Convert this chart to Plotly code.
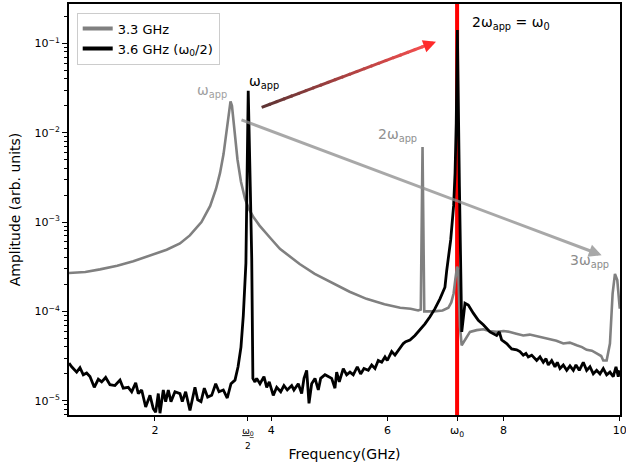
import plotly.graph_objects as go

# ---------------- data ----------------
# 3.3 GHz drive (gray): frequency (GHz) and log10(amplitude)
gray_freq = [0.52, 0.8, 1.053, 1.35, 1.627, 1.9, 2.201, 2.43, 2.6, 2.8, 2.95, 3.05, 3.12, 3.18,
             3.22, 3.25, 3.275, 3.30, 3.325, 3.35, 3.38, 3.42, 3.48, 3.55, 3.62, 3.70, 3.80, 3.90,
             4.0, 4.15, 4.32, 4.49, 4.75, 5.07, 5.35, 5.64, 5.95, 6.22, 6.40, 6.53, 6.575, 6.605,
             6.635, 6.66, 6.8, 6.95, 7.05, 7.10, 7.14, 7.17, 7.20, 7.22, 7.25, 7.279, 7.336,
             7.422, 7.537, 7.651, 7.75, 7.881, 8.0, 8.11, 8.22, 8.339, 8.45, 8.57, 8.68, 8.798,
             8.91, 9.028, 9.14, 9.258, 9.35, 9.43, 9.52, 9.602, 9.68, 9.716, 9.774, 9.831, 9.877,
             9.917, 9.957, 10.0]
gray_log_amp = [-3.57, -3.56, -3.53, -3.49, -3.44, -3.38, -3.31, -3.24, -3.15, -3.00, -2.82, -2.63,
                -2.45, -2.24, -2.03, -1.86, -1.72, -1.65, -1.70, -1.85, -2.05, -2.30, -2.55, -2.74,
                -2.86, -2.95, -3.04, -3.12, -3.19, -3.30, -3.39, -3.47, -3.58, -3.69, -3.78, -3.86,
                -3.92, -3.96, -3.97, -3.99, -3.98, -2.16, -4.00, -4.00, -4.00, -3.99, -3.96, -3.90,
                -3.80, -3.64, -3.50, -3.54, -4.17, -4.38, -4.32, -4.23, -4.21, -4.20, -4.22, -4.23,
                -4.22, -4.23, -4.25, -4.27, -4.26, -4.28, -4.30, -4.32, -4.33, -4.36, -4.35, -4.38,
                -4.40, -4.43, -4.44, -4.47, -4.50, -4.55, -4.55, -4.36, -3.80, -3.58, -3.65, -3.97]

# 3.6 GHz drive (black): frequency (GHz) and log10(amplitude)
black_freq = [0.52, 0.566, 0.652, 0.709, 0.766, 0.824, 0.881, 0.955, 1.024, 1.082, 1.151, 1.225,
              1.311, 1.398, 1.454, 1.540, 1.599, 1.668, 1.713, 1.771, 1.840, 1.914, 1.971, 2.012,
              2.057, 2.086, 2.143, 2.184, 2.229, 2.275, 2.344, 2.430, 2.470, 2.528, 2.602, 2.688,
              2.735, 2.792, 2.849, 2.907, 2.976, 3.045, 3.102, 3.176, 3.244, 3.308, 3.377, 3.43,
              3.48, 3.52, 3.565, 3.585, 3.605, 3.64, 3.665, 3.685, 3.721, 3.750, 3.807, 3.876,
              3.923, 3.967, 4.036, 4.095, 4.164, 4.220, 4.277, 4.353, 4.392, 4.466, 4.525, 4.565,
              4.611, 4.651, 4.697, 4.754, 4.811, 4.852, 4.926, 4.983, 5.041, 5.098, 5.127, 5.172,
              5.241, 5.299, 5.356, 5.413, 5.482, 5.540, 5.597, 5.671, 5.730, 5.787, 5.843, 5.902,
              5.959, 5.998, 6.074, 6.131, 6.205, 6.274, 6.315, 6.389, 6.475, 6.561, 6.647, 6.733,
              6.819, 6.905, 6.991, 7.02, 7.09, 7.14, 7.165, 7.185, 7.205, 7.24, 7.28, 7.336, 7.393,
              7.479, 7.565, 7.651, 7.766, 7.881, 7.926, 7.967, 8.053, 8.139, 8.225, 8.282, 8.339,
              8.385, 8.425, 8.484, 8.570, 8.627, 8.684, 8.730, 8.770, 8.828, 8.885, 8.925, 8.971,
              9.028, 9.087, 9.143, 9.201, 9.246, 9.303, 9.372, 9.430, 9.487, 9.544, 9.602, 9.659,
              9.716, 9.774, 9.831, 9.888, 9.935, 9.974, 10.0]
black_log_amp = [-4.58, -4.62, -4.68, -4.63, -4.71, -4.69, -4.73, -4.85, -4.76, -4.79, -4.74, -4.82,
                 -4.83, -4.77, -4.86, -4.85, -4.90, -4.80, -4.92, -4.88, -5.07, -4.94, -5.09, -5.13,
                 -4.92, -5.14, -4.88, -5.01, -4.88, -5.01, -4.90, -4.92, -5.01, -4.90, -5.11, -4.85,
                 -4.99, -5.01, -4.86, -4.96, -4.94, -4.81, -4.90, -4.88, -4.97, -4.81, -4.77, -4.62,
                 -4.40, -4.05, -3.46, -2.60, -1.53, -2.60, -3.40, -4.75, -4.79, -4.75, -4.81, -4.73,
                 -4.85, -4.79, -4.94, -4.85, -4.90, -4.83, -4.88, -4.83, -4.88, -4.81, -4.92, -4.75,
                 -4.66, -5.03, -4.81, -4.75, -4.88, -4.75, -4.71, -4.73, -4.75, -4.86, -4.68, -4.79,
                 -4.64, -4.71, -4.68, -4.71, -4.62, -4.70, -4.64, -4.66, -4.60, -4.64, -4.55, -4.57,
                 -4.51, -4.55, -4.45, -4.49, -4.42, -4.36, -4.34, -4.32, -4.27, -4.21, -4.14, -4.06,
                 -3.97, -3.86, -3.73, -3.55, -3.20, -2.82, -2.45, -1.90, -0.85, -2.60, -4.23, -3.91,
                 -3.93, -4.02, -4.10, -4.15, -4.23, -4.27, -4.23, -4.32, -4.36, -4.42, -4.43, -4.45,
                 -4.49, -4.47, -4.51, -4.49, -4.55, -4.51, -4.57, -4.53, -4.60, -4.55, -4.62, -4.57,
                 -4.64, -4.60, -4.66, -4.61, -4.66, -4.60, -4.66, -4.57, -4.66, -4.62, -4.70, -4.66,
                 -4.70, -4.64, -4.71, -4.68, -4.73, -4.62, -4.73, -4.66]

omega0 = 7.2
series_names = ["3.3 GHz", "3.6 GHz (ω<sub>0</sub>/2)"]
x_tick_vals = [2, 3.6, 4, 6, 7.2, 8, 10]
x_tick_text = ["2", "<span style='font-size:9px'><u>ω<sub>0</sub></u><br>2</span>", "4", "6",
               "ω<sub>0</sub>", "8", "10"]
y_tick_vals = [1e-5, 1e-4, 1e-3, 1e-2, 1e-1]
y_tick_text = ["10<sup>−5</sup>", "10<sup>−4</sup>", "10<sup>−3</sup>", "10<sup>−2</sup>", "10<sup>−1</sup>"]
y_minor_vals = [k * 10.0 ** e for e in range(-6, 0) for k in range(2, 10)]

# annotation arrows (GHz, log10 amplitude)
red_arrow_tail = (3.836, -1.717)
red_arrow_tip = (6.837, -0.982)
gray_arrow_tail = (3.463, -1.851)
gray_arrow_tip = (9.688, -3.371)

# ---------------- figure ----------------
fig = go.Figure()

fig.add_trace(go.Scatter(x=gray_freq, y=[10 ** v for v in gray_log_amp], mode="lines",
                         line=dict(color="#808080", width=2.6), showlegend=False))
fig.add_trace(go.Scatter(x=black_freq, y=[10 ** v for v in black_log_amp], mode="lines",
                         line=dict(color="#000000", width=2.8), showlegend=False))
# legend entries (thicker sample lines, as in the reference)
fig.add_trace(go.Scatter(x=[None], y=[None], mode="lines", line=dict(color="#808080", width=4),
                         name=series_names[0]))
fig.add_trace(go.Scatter(x=[None], y=[None], mode="lines", line=dict(color="#000000", width=4),
                         name=series_names[1]))

# gradient arrow shaft (dark brown -> light red)
nseg = 24
c0 = (92, 52, 52)
c1 = (255, 80, 80)
for i in range(nseg):
    t0 = i / nseg
    t1 = (i + 1) / nseg
    tm = (t0 + t1) / 2
    col = tuple(int(round(c0[k] + (c1[k] - c0[k]) * tm)) for k in range(3))
    xa = red_arrow_tail[0] + (red_arrow_tip[0] - red_arrow_tail[0]) * t0
    xb = red_arrow_tail[0] + (red_arrow_tip[0] - red_arrow_tail[0]) * min(t1 + 0.01, 0.96)
    ya = red_arrow_tail[1] + (red_arrow_tip[1] - red_arrow_tail[1]) * t0
    yb = red_arrow_tail[1] + (red_arrow_tip[1] - red_arrow_tail[1]) * min(t1 + 0.01, 0.96)
    fig.add_trace(go.Scatter(x=[xa, xb], y=[10 ** ya, 10 ** yb], mode="lines",
                             line=dict(color="rgb(%d,%d,%d)" % col, width=3),
                             showlegend=False, hoverinfo="skip"))

# red arrow head
hx = red_arrow_tip[0] - (red_arrow_tip[0] - red_arrow_tail[0]) * 0.06
hy = red_arrow_tip[1] - (red_arrow_tip[1] - red_arrow_tail[1]) * 0.06
fig.add_annotation(x=red_arrow_tip[0], y=red_arrow_tip[1], ax=hx, ay=hy, xref="x", yref="y",
                   axref="x", ayref="y", text="", showarrow=True, arrowhead=2, arrowsize=0.85,
                   arrowwidth=3, arrowcolor="#ff2a2a", standoff=0)
# gray arrow
fig.add_annotation(x=gray_arrow_tip[0], y=gray_arrow_tip[1], ax=gray_arrow_tail[0], ay=gray_arrow_tail[1],
                   xref="x", yref="y", axref="x", ayref="y", text="", showarrow=True, arrowhead=2,
                   arrowsize=0.85, arrowwidth=3, arrowcolor="rgba(140,140,140,0.75)", standoff=0)

# red vertical line at omega0
fig.add_shape(type="line", x0=omega0, x1=omega0, xref="x", yref="paper", y0=0, y1=1,
              line=dict(color="#ff0000", width=4), layer="below")

labels = [
    (2.98, -1.534, "ω<sub>app</sub>", "#a0a0a0"),
    (3.876, -1.43, "ω<sub>app</sub>", "#000000"),
    (6.174, -2.027, "2ω<sub>app</sub>", "#909090"),
    (8.124, -0.776, "2ω<sub>app</sub> = ω<sub>0</sub>", "#000000"),
    (9.487, -3.44, "3ω<sub>app</sub>", "#8c8c8c"),
]
for lx, ly, txt, col in labels:
    fig.add_annotation(x=lx, y=ly, xref="x", yref="y", text=txt, showarrow=False,
                       font=dict(size=14, color=col, family="DejaVu Sans"))

fig.update_layout(
    width=626, height=470,
    margin=dict(l=69, r=6, t=4, b=55),
    paper_bgcolor="white", plot_bgcolor="white",
    font=dict(family="DejaVu Sans", size=12, color="black"),
    showlegend=True,
    legend=dict(x=0.014, y=0.979, xanchor="left", yanchor="top", bgcolor="rgba(255,255,255,0.8)",
                bordercolor="#cccccc", borderwidth=1, font=dict(size=13), tracegroupgap=0,
                itemwidth=30),
    xaxis=dict(range=[0.52, 10.004], tickmode="array", tickvals=x_tick_vals, ticktext=x_tick_text,
               showgrid=False, zeroline=False, showline=True, linecolor="black", linewidth=2,
               mirror=True, ticks="outside", ticklen=4, tickwidth=1, tickcolor="black",
               tickfont=dict(size=11), automargin=False, ticklabeloverflow="allow",
               title=dict(text="Frequency(GHz)", font=dict(size=14), standoff=0)),
    yaxis=dict(type="log", range=[-5.16, -0.56], tickmode="array", tickvals=y_tick_vals,
               ticktext=y_tick_text, showgrid=False, zeroline=False, showline=True,
               linecolor="black", linewidth=2, mirror=True, ticks="outside", ticklen=5,
               tickwidth=1, tickcolor="black", tickfont=dict(size=11), automargin=False,
               minor=dict(tickmode="array", tickvals=y_minor_vals, ticks="outside", ticklen=3,
                          tickcolor="black", showgrid=False),
               title=dict(text="Amplitude (arb. units)", font=dict(size=14), standoff=11)),
)

fig.write_html("out.html", config={"displayModeBar": False},
               post_script="document.body.style.margin='0';")
